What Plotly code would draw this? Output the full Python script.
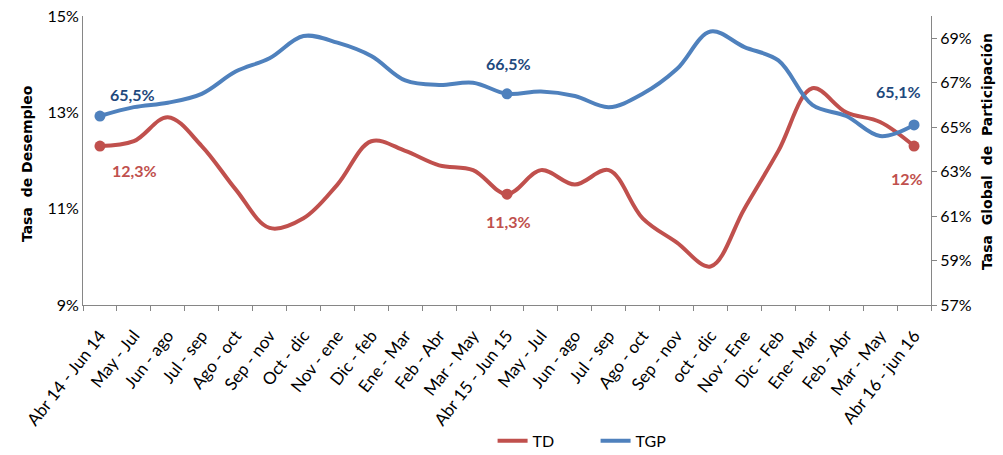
import plotly.graph_objects as go

# Trimestres móviles (abril 2014 - junio 2016)
periodos = [
    "Abr 14 - Jun 14", "May - Jul", "Jun - ago", "Jul - sep", "Ago - oct",
    "Sep - nov", "Oct - dic", "Nov - ene", "Dic - feb", "Ene - Mar",
    "Feb - Abr", "Mar - May", "Abr 15 - Jun 15", "May - Jul", "Jun - ago",
    "Jul - sep", "Ago - oct", "Sep - nov", "oct - dic", "Nov - Ene",
    "Dic - Feb", "Ene- Mar", "Feb - Abr", "Mar - May", "Abr 16 - jun 16",
]

# Tasa de desempleo (%)
td = [12.3, 12.4, 12.9, 12.3, 11.4, 10.6, 10.8, 11.5, 12.4, 12.2, 11.9, 11.8,
      11.3, 11.8, 11.5, 11.8, 10.8, 10.3, 9.8, 11.0, 12.2, 13.5, 13.0, 12.8, 12.3]

# Tasa global de participación (%)
tgp = [65.5, 65.9, 66.1, 66.5, 67.5, 68.1, 69.1, 68.8, 68.2, 67.1, 66.9, 67.0,
       66.5, 66.6, 66.4, 65.9, 66.5, 67.6, 69.3, 68.6, 68.0, 66.0, 65.5, 64.6, 65.1]

# Puntos destacados: inicio, mitad y fin de la serie
destacados = [0, 12, 24]

ROJO = "#C0504D"
AZUL = "#4F81BD"
AZUL_TXT = "#1F497D"
EJE = "#868686"

pos = list(range(len(periodos)))

fig = go.Figure()

fig.add_trace(go.Scatter(
    x=pos, y=td, name="TD", mode="lines",
    line=dict(color=ROJO, width=4, shape="spline", smoothing=1),
    yaxis="y",
))
fig.add_trace(go.Scatter(
    x=pos, y=tgp, name="TGP", mode="lines",
    line=dict(color=AZUL, width=4, shape="spline", smoothing=1),
    yaxis="y2",
))
fig.add_trace(go.Scatter(
    x=destacados, y=[td[i] for i in destacados],
    mode="markers", marker=dict(color=ROJO, size=11), showlegend=False,
    hoverinfo="skip", yaxis="y",
))
fig.add_trace(go.Scatter(
    x=destacados, y=[tgp[i] for i in destacados],
    mode="markers", marker=dict(color=AZUL, size=11), showlegend=False,
    hoverinfo="skip", yaxis="y2",
))


def etiqueta(v, decimales=1):
    return (f"{v:.{decimales}f}".replace(".", ",")) + "%"


lbl_font = dict(family="Lato", size=16)
anotaciones = []
# (índice, serie, eje, desplazamiento x, desplazamiento y, decimales, color)
ubicaciones = [
    (0, tgp, "y2", 33, 22, 1, AZUL_TXT),
    (12, tgp, "y2", 1, 30, 1, AZUL_TXT),
    (24, tgp, "y2", -16, 33, 1, AZUL_TXT),
    (0, td, "y", 35, -24, 1, ROJO),
    (12, td, "y", 1, -27, 1, ROJO),
    (24, td, "y", -7, -32, 0, ROJO),
]
for i, serie, eje, dx, dy, dec, color in ubicaciones:
    anotaciones.append(dict(
        x=i, y=serie[i], xref="x", yref=eje,
        text="<b>" + etiqueta(serie[i], dec) + "</b>",
        showarrow=False, xshift=dx, yshift=dy,
        font=dict(color=color, **lbl_font),
    ))

titulo_font = dict(family="DejaVu Sans", size=14, color="#000000")
anotaciones.append(dict(
    x=-0.077, y=0.49, xref="paper", yref="paper", textangle=-90,
    text="<b>Tasa  de Desempleo</b>", showarrow=False, font=titulo_font,
))
anotaciones.append(dict(
    x=1.078, y=0.53, xref="paper", yref="paper", textangle=-90,
    text="<b>Tasa  Global  de  Participación</b>", showarrow=False,
    font=titulo_font,
))

tick_font = dict(family="Lato", size=16, color="#000000")
limites = [p - 0.5 for p in pos] + [pos[-1] + 0.5]

fig.update_layout(
    width=1003, height=455,
    margin=dict(l=83, r=72, t=16, b=150, autoexpand=False),
    paper_bgcolor="white", plot_bgcolor="white",
    showlegend=True,
    legend=dict(
        orientation="h", x=0.483, y=-0.47, xanchor="left", yanchor="middle",
        font=dict(family="Lato", size=16, color="#000000"),
        entrywidth=58, entrywidthmode="pixels", itemwidth=30,
    ),
    xaxis=dict(
        range=[-0.5, 24.5], tickmode="array", tickvals=pos, ticktext=periodos,
        showline=True, linecolor=EJE, linewidth=1, automargin=False,
        ticks="", tickangle=-52, ticklabelstandoff=13,
        tickfont=dict(family="Lato", size=17, color="#000000"),
        minor=dict(tickmode="array", tickvals=limites, ticks="outside",
                   ticklen=5, tickcolor=EJE, showgrid=False),
        showgrid=False, zeroline=False,
    ),
    yaxis=dict(
        range=[9, 15], tick0=9, dtick=2, ticksuffix="%", automargin=False,
        showline=True, linecolor=EJE, linewidth=1,
        ticks="", tickfont=tick_font, showgrid=False, zeroline=False,
    ),
    yaxis2=dict(
        range=[57, 70], tickmode="linear", tick0=57, dtick=2, ticksuffix="%",
        overlaying="y", side="right", automargin=False,
        showline=True, linecolor=EJE, linewidth=1,
        ticks="outside", ticklen=5, tickcolor=EJE,
        tickfont=tick_font, showgrid=False, zeroline=False,
    ),
    annotations=anotaciones,
)

fig.write_html("out.html")
